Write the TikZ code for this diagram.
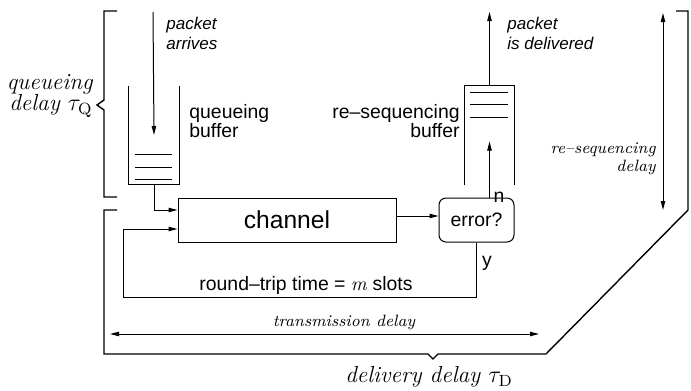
\documentclass[tikz,border=0pt]{standalone}
\usepackage{fontspec}
\setsansfont{Liberation Sans}
\usetikzlibrary{arrows.meta, positioning, calc}
\tikzset{
	blk/.style ={rectangle, draw=black, line width=0.5pt, minimum width=109pt, minimum height=22pt, font=\sffamily\fontsize{12.3}{14}\selectfont},
	chk/.style ={rectangle, rounded corners=3.5pt, draw=black, line width=0.5pt, minimum width=37.5pt, minimum height=22pt, font=\sffamily\fontsize{9.7}{11}\selectfont},
	buf/.style ={rectangle, inner sep=0pt, minimum width=25pt, minimum height=49pt},
	lbl/.style ={font=\sffamily\fontsize{9.7}{9.5}\selectfont, inner sep=0pt},
	note/.style={font=\sffamily\itshape\fontsize{8.5}{10}\selectfont, inner sep=0pt, align=left},
	dly/.style ={font=\itshape\fontsize{11.6}{10.8}\selectfont, inner sep=0pt},
	sdly/.style={font=\itshape\fontsize{8.2}{9}\selectfont, inner sep=0pt},
	sig/.style ={-{Triangle[length=4.5pt, width=2.2pt]}, line width=0.5pt},
	span/.style={{Triangle[length=4.5pt, width=2.2pt]}-{Triangle[length=4.5pt, width=2.2pt]}, line width=0.5pt},
	brk/.style ={line width=0.7pt},
}
\begin{document}
\begin{tikzpicture}[x=0.5pt, y=-0.5pt]
	\useasboundingbox (0,0) rectangle (691,391);
	% buffers, open at the top / bottom
	\node[buf] (qbuf) at (154,135) {};
	\node[buf, minimum height=49.5pt] (rbuf) at (489.5,135.5) {};
	\draw[line width=0.5pt] (qbuf.north west) -- (qbuf.south west) -- (qbuf.south east) -- (qbuf.north east);
	\foreach \y in {154,167,179} \draw[line width=0.5pt] (135,\y) -- (172,\y);
	\draw[line width=0.5pt] (rbuf.south west) -- (rbuf.north west) -- (rbuf.north east) -- (rbuf.south east);
	\foreach \y in {92,104,117} \draw[line width=0.5pt] (470,\y) -- (508,\y);
	\node[lbl, anchor=west, align=left] (qlbl) at (189,121) {queueing\\buffer};
	\node[lbl, anchor=east, align=right] (rlbl) at (460,121) {re--sequencing\\buffer};
	% channel and error check
	\node[blk] (channel) at (287,220) {channel};
	\node[chk] (error) at (476.5,220) {error?};
	\coordinate (qin) at (153,12);
	\coordinate (rout) at (489.5,12);
	\coordinate (loop) at (123,297);
	\draw[sig] (qin) -- (qbuf.center);
	\draw[sig] (qbuf.south) |- ([yshift=5pt]channel.west);
	\draw[sig] ([yshift=2pt]channel.east) -- ([yshift=2pt]error.west);
	\draw[sig] (error.south) |- (loop) |- ([yshift=-4.5pt]channel.west);
	\draw[sig] (rbuf |- error.north) -- ([yshift=-3pt]rbuf.center);
	\draw[sig] (rbuf.north) -- (rout);
	\node[note, anchor=west] (arr) at (166,33) {packet\\arrives};
	\node[note, anchor=west] (dlv) at (507,33) {packet\\is delivered};
	\node[lbl] (yes) at (487,263) {y};
	\node[lbl] (no) at (499,197) {n};
	\node[lbl] (rtt) at (306,285) {round--trip time = \textrm{\itshape m} slots};
	% delays
	\draw[brk] (117,11) -- (104,11) -- (104,100) -- (97,105) -- (104,110) -- (104,197) -- (117,197);
	\draw[brk] (117,210) -- (104,210) -- (104,354) -- (428,354) -- (433,359) -- (438,354) -- (546,354) -- (688,210) -- (688,11) -- (676,11);
	\coordinate (tx0) at (110,334);
	\coordinate (tx1) at (539,334);
	\coordinate (rs0) at (663,13);
	\coordinate (rs1) at (663,210);
	\draw[span] (tx0) -- (tx1);
	\draw[span] (rs0) -- (rs1);
	\node[sdly] (txd) at (344,322) {transmission delay};
	\node[sdly, anchor=east, align=right] (rsd) at (656,159) {re--sequencing\\delay};
	\node[dly, anchor=east, align=right] (qd) at (93,96) {queueing\\delay $\tau_{\mathrm{Q}}$};
	\node[dly] (dd) at (429,377) {delivery delay $\tau_{\mathrm{D}}$};
\end{tikzpicture}
\end{document}
